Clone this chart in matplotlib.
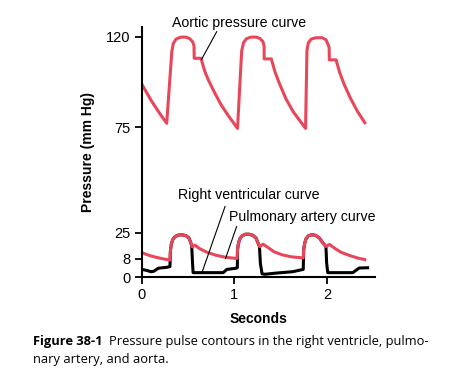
import numpy as np
import matplotlib
matplotlib.use("Agg")
import matplotlib.pyplot as plt

# aortic pressure (seconds, mm Hg)
aorta_t = [0.00, 0.05, 0.10, 0.15, 0.20, 0.27, 0.325, 0.34, 0.37, 0.42, 0.48, 0.52, 0.55, 0.565, 0.567, 0.64,
           0.68, 0.72, 0.79, 0.86, 0.94, 1.035,
           1.08, 1.10, 1.13, 1.18, 1.24, 1.28, 1.31, 1.322, 1.323, 1.40,
           1.44, 1.49, 1.56, 1.64, 1.77,
           1.785, 1.80, 1.83, 1.88, 1.95, 1.99, 2.015, 2.025, 2.027, 2.10,
           2.14, 2.19, 2.26, 2.33, 2.41]
aorta_p = [96.5, 92.5, 88.5, 85.0, 81.5, 77.0, 112.5, 116.5, 118.8, 119.8, 119.8, 119.0, 117.5, 115.5, 109.3, 109.3,
           103.0, 98.5, 92.0, 86.0, 80.5, 74.5,
           113.0, 117.0, 119.0, 119.8, 119.8, 119.0, 117.5, 115.5, 109.0, 109.0,
           102.5, 96.5, 89.0, 82.5, 74.5,
           113.0, 117.0, 118.8, 119.5, 119.5, 118.5, 116.0, 114.5, 108.5, 108.5,
           102.0, 96.0, 89.0, 83.0, 77.3]

# pulmonary artery pressure
pulm_t = [0.00, 0.05, 0.10, 0.15, 0.20, 0.25, 0.305, 0.31, 0.32, 0.335, 0.36, 0.40, 0.44, 0.48, 0.51, 0.53, 0.545,
          0.575, 0.62, 0.70, 0.80, 0.90, 1.00, 1.03,
          1.035, 1.045, 1.06, 1.085, 1.12, 1.16, 1.20, 1.235, 1.255, 1.275, 1.31, 1.36, 1.43, 1.52, 1.62, 1.745,
          1.75, 1.76, 1.775, 1.80, 1.84, 1.88, 1.92, 1.955, 1.99, 2.03, 2.08, 2.15, 2.25, 2.33, 2.41]
pulm_p = [12.0, 10.8, 9.8, 9.0, 8.3, 7.8, 7.4, 13.0, 17.5, 20.5, 22.5, 23.5, 23.6, 23.0, 21.5, 18.5, 15.8,
          16.9, 14.8, 12.3, 10.3, 9.0, 8.3, 8.2,
          14.0, 18.0, 21.0, 23.0, 24.0, 24.0, 23.3, 21.5, 18.5, 15.8, 17.5, 15.5, 12.5, 10.5, 9.2, 8.5,
          14.0, 18.0, 21.0, 23.0, 23.7, 23.2, 21.5, 18.5, 16.0, 17.3, 15.0, 12.3, 10.0, 8.5, 7.6]

# right ventricular pressure
rv_t = [0.00, 0.05, 0.10, 0.13, 0.18, 0.27, 0.305, 0.31, 0.32, 0.335, 0.36, 0.40, 0.44, 0.48, 0.51, 0.53, 0.54,
        0.548, 0.555, 0.88, 0.92, 1.02, 1.033,
        1.035, 1.045, 1.06, 1.085, 1.12, 1.16, 1.20, 1.235, 1.255, 1.272, 1.282, 1.30, 1.33, 1.45, 1.63, 1.745,
        1.75, 1.76, 1.775, 1.80, 1.84, 1.88, 1.92, 1.955, 1.99, 1.998, 2.01, 2.28, 2.35, 2.44]
rv_p = [3.4, 3.0, 2.4, 2.6, 3.9, 4.3, 4.6, 13.0, 17.5, 20.5, 22.5, 23.5, 23.6, 23.0, 21.5, 18.5, 16.5,
        7.0, 2.0, 2.0, 3.4, 3.9, 4.2,
        14.0, 18.0, 21.0, 23.0, 24.0, 24.0, 23.3, 21.5, 18.5, 16.0, 6.0, 1.5, 1.3, 1.8, 2.4, 3.4,
        14.0, 18.0, 21.0, 23.0, 23.7, 23.2, 21.5, 18.5, 16.0, 6.0, 2.0, 2.0, 4.0, 4.1]

y_ticks = [0, 8, 25, 75, 120]
x_ticks = [0, 1, 2]

# the printed axis is not linear: tick value -> height on the page
scale_vals = [0, 8, 25, 75, 120]
scale_pos = [0.0, 18.6, 44.6, 150.0, 240.6]


def fwd(v):
    v = np.asarray(v, dtype=float)
    out = np.interp(v, scale_vals, scale_pos)
    out = np.where(v > 120, 240.6 + (v - 120) * 2.013, out)
    out = np.where(v < 0, v * 2.33, out)
    return out


def inv(t):
    t = np.asarray(t, dtype=float)
    out = np.interp(t, scale_pos, scale_vals)
    out = np.where(t > 240.6, 120 + (t - 240.6) / 2.013, out)
    out = np.where(t < 0, t / 2.33, out)
    return out


red = '#e8475a'
plt.rcParams['font.family'] = ['Liberation Sans', 'DejaVu Sans']

fig = plt.figure(figsize=(4.61, 3.91), dpi=100)
ax = fig.add_axes([0.3074, 0.2908, 0.506, 0.641])
ax.set_yscale('function', functions=(fwd, inv))

ax.plot(rv_t, rv_p, color='black', lw=2.2, solid_joinstyle='round')
ax.plot(pulm_t, pulm_p, color=red, lw=2.2, solid_joinstyle='round')
ax.plot(aorta_t, aorta_p, color=red, lw=2.2, solid_joinstyle='round')

ax.set_xlim(0, 2.52)
ax.set_ylim(0, 125)
ax.set_xticks(x_ticks)
ax.set_yticks(y_ticks)
ax.set_yticklabels([str(v) for v in y_ticks])
ax.minorticks_off()
ax.tick_params(labelsize=10.5, length=5, width=1.3, pad=3)
for s in ['top', 'right']:
    ax.spines[s].set_visible(False)
for s in ['left', 'bottom']:
    ax.spines[s].set_linewidth(1.5)

ax.set_xlabel('Seconds', fontsize=10, fontweight='bold', labelpad=7)
ax.set_ylabel('Pressure (mm Hg)', fontsize=10, fontweight='bold', labelpad=8)

# curve labels with leader lines
labels = ['Aortic pressure curve', 'Right ventricular curve', 'Pulmonary artery curve']
label_xy = [(0.324, 126.7), (0.388, 42.9), (0.942, 32.5)]
leader_from = [(0.81, 122.5), (0.90, 37.4), (1.025, 27.9)]
leader_to = [(0.647, 108.8), (0.654, 2.4), (0.906, 8.2)]
for lab, (tx, ty), (x0, y0), (x1, y1) in zip(labels, label_xy, leader_from, leader_to):
    ax.text(tx, ty, lab, fontsize=10.2, va='center', ha='left', clip_on=False)
    ax.plot([x0, x1], [y0, y1], color='black', lw=0.8, clip_on=False)

# caption
cap_font = ['Open Sans', 'DejaVu Sans']
fig.canvas.draw()
r = fig.canvas.get_renderer()
t1 = fig.text(33 / 461, 1 - 342 / 391, 'Figure 38-1', fontsize=9.3, fontweight='bold',
              family=cap_font, va='center', ha='left')
bb = t1.get_window_extent(renderer=r)
fig.text((bb.x1 + 6) / 461, 1 - 342 / 391, 'Pressure pulse contours in the right ventricle, pulmo-',
         fontsize=9.3, family=cap_font, va='center', ha='left')
fig.text(33 / 461, 1 - 360 / 391, 'nary artery, and aorta.', fontsize=9.3, family=cap_font,
         va='center', ha='left')

fig.savefig('out.png', dpi=100)
